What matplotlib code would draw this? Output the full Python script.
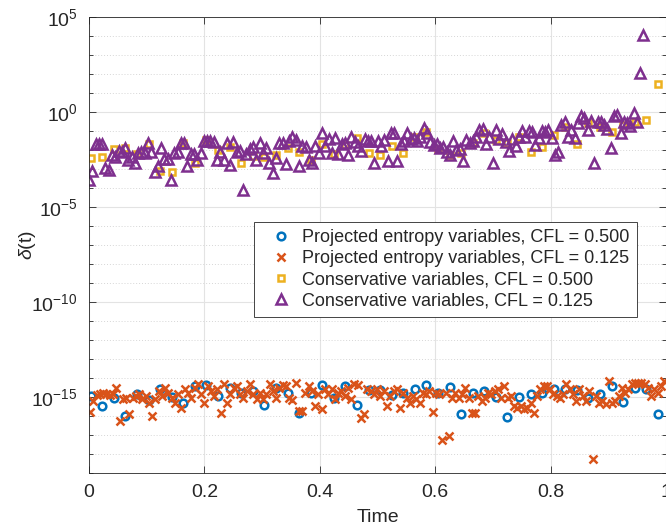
import matplotlib
matplotlib.use("Agg")
import matplotlib.pyplot as plt
import numpy as np
from matplotlib.ticker import FixedLocator, LogFormatterSciNotation, NullFormatter

plt.rcParams['font.family'] = ['Liberation Sans', 'DejaVu Sans']
plt.rcParams['mathtext.fontset'] = 'custom'
plt.rcParams['mathtext.rm'] = 'Liberation Sans'
plt.rcParams['mathtext.it'] = 'Liberation Sans:italic'
plt.rcParams['axes.unicode_minus'] = False

# log10(delta)
# projected entropy variables, CFL = 0.500
blue_exp = [-14.96, -15.49, -15.03, -16.0, -14.82, -15.17, -14.56, -14.99, -15.33, -14.43,
            -14.36, -14.96, -14.5, -14.8, -14.71, -15.42, -14.54, -14.78, -15.86, -14.8,
            -14.36, -15.06, -14.41, -15.43, -14.64, -14.61, -14.91, -14.77, -14.56, -14.36,
            -14.78, -14.47, -15.91, -14.78, -14.71, -14.98, -16.05, -14.99, -14.85, -14.8,
            -14.56, -14.56, -14.64, -15.03, -14.85, -14.43, -15.27, -14.54, -14.58, -15.88]

# projected entropy variables, CFL = 0.125
orange_exp = [-15.77, -15.21, -14.89, -14.82, -14.77, -14.82, -14.89, -14.86, -14.51, -16.27,
              -15.12, -15.04, -15.92, -15.04, -14.95, -14.86, -15.12, -14.95, -15.3, -16.0,
              -15.12, -14.68, -14.95, -14.51, -14.77, -15.04, -15.3, -14.86, -15.56, -14.6,
              -14.77, -15.04, -14.51, -14.33, -14.86, -15.3, -14.42, -14.68, -14.95, -14.6,
              -15.83, -14.3, -15.3, -14.86, -14.51, -14.42, -14.86, -15.04, -14.68, -14.33,
              -14.86, -15.12, -14.77, -15.12, -14.86, -14.33, -14.68, -15.04, -14.51, -14.37,
              -14.42, -15.04, -15.18, -14.24, -15.74, -15.74, -14.77, -14.42, -14.68, -15.48,
              -14.86, -15.65, -14.6, -14.86, -14.6, -15.12, -14.77, -14.68, -14.95, -14.51,
              -15.12, -14.33, -14.37, -16.09, -15.92, -14.6, -14.68, -14.86, -14.6, -14.95,
              -14.68, -15.48, -14.95, -14.68, -14.6, -15.6, -14.77, -15.04, -15.3, -14.95,
              -15.12, -15.3, -14.77, -14.86, -14.68, -15.77, -14.77, -14.86, -17.24, -14.77,
              -17.06, -15.04, -14.77, -15.04, -14.86, -14.51, -15.04, -15.83, -15.83,
              -14.95, -15.21, -15.04, -14.77, -14.86, -14.68, -14.6, -15.04, -14.42, -15.04,
              -14.95, -15.48, -15.56, -15.48, -15.65, -15.56, -15.3, -15.83, -14.95, -14.6,
              -14.42, -14.42, -14.6, -14.86, -14.95, -15.04, -14.86, -14.33, -14.6, -14.86,
              -15.21, -14.6, -14.95, -15.21, -14.68, -18.24, -14.95, -15.3, -15.21, -15.39,
              -14.16, -15.3, -15.21, -14.95, -14.51, -14.77, -14.6, -14.33, -14.24, -14.24,
              -14.24, -14.33, -14.51, -14.95, -14.6, -14.77, -14.42, -14.16]

# conservative variables, CFL = 0.500
yellow_exp = [-2.41, -2.36, -1.95, -1.9, -2.2, -1.69, -3.1, -3.17, -1.62, -2.66,
              -1.48, -2.0, -1.83, -2.66, -2.29, -2.36, -2.27, -1.87, -2.1, -2.53,
              -1.69, -2.2, -1.74, -1.39, -2.17, -2.27, -1.78, -2.18, -1.3, -1.04,
              -1.95, -2.27, -2.18, -1.65, -1.13, -1.48, -1.65, -1.34, -2.13, -1.83,
              -1.21, -0.78, -1.69, -0.6, -0.78, -1.07, -0.69, -0.55, -0.44, 1.46]

# conservative variables, CFL = 0.125 (blows up near t = 0.96)
purple_exp = [-3.59, -3.1, -1.71, -1.71, -1.71, -2.94, -3.06, -2.27, -2.36, -2.04,
              -2.1, -1.92, -2.5, -2.36, -2.71, -2.18, -2.1, -2.18, -1.65, -2.1,
              -3.15, -2.83, -1.87, -2.45, -2.45, -3.59, -2.15, -2.1, -1.62, -1.62,
              -2.85, -2.22, -2.22, -2.5, -2.15, -1.53, -1.5, -1.53, -1.6, -2.5,
              -2.1, -2.5, -1.65, -2.8, -1.6, -2.1, -2.05, -4.08, -2.22, -1.95,
              -1.83, -2.5, -1.65, -2.15, -1.9, -2.7, -3.2, -2.4, -1.65, -1.65,
              -2.75, -1.5, -1.34, -1.45, -2.85, -1.8, -1.85, -2.5, -2.7, -1.8,
              -2.15, -1.09, -1.8, -1.4, -2.15, -1.35, -2.2, -1.69, -1.65, -2.27,
              -1.34, -1.6, -1.8, -2.05, -1.4, -1.5, -1.5, -2.71, -1.5, -1.8,
              -1.45, -2.6, -1.13, -1.1, -2.6, -1.7, -1.55, -1.1, -1.4, -1.35,
              -1.5, -1.3, -0.86, -1.1, -1.6, -1.75, -1.7, -1.9, -1.85, -2.1,
              -2.25, -1.55, -2.0, -1.95, -2.6, -1.45, -1.65, -1.5, -1.3, -0.95,
              -0.88, -1.7, -1.3, -2.71, -0.95, -1.4, -1.15, -1.6, -2.05, -1.4,
              -1.8, -1.3, -1.0, -1.3, -1.0, -1.05, -1.75, -1.35, -1.0, -1.05,
              -0.95, -1.35, -2.27, -2.1, -0.69, -0.5, -1.3, -0.95, -1.35, -0.6,
              -0.21, -0.3, -0.95, -0.45, -2.71, -0.55, -0.5, -0.7, -0.9, -1.9,
              -0.21, -0.15, -1.1, -0.5, -0.6, -0.75, -0.07, -0.55, 2.04, 4.07]

# time grids of the stored steps
t_coarse = np.linspace(0.003, 0.986, len(blue_exp))
t_orange = np.linspace(0.002, 0.997, len(orange_exp))
t_purple = np.linspace(0.0, 0.961, len(purple_exp))

labels = ['Projected entropy variables, CFL = 0.500',
          'Projected entropy variables, CFL = 0.125',
          'Conservative variables, CFL = 0.500',
          'Conservative variables, CFL = 0.125']
colors = ['#0072BD', '#D95319', '#EDB120', '#7E2F8E']

fig = plt.figure(figsize=(6.66, 5.29), dpi=100)
ax = fig.add_axes([89 / 666, 56 / 529, 577 / 666, 456 / 529])

mk = dict(linestyle='none', markerfacecolor='none', markeredgewidth=1.8)
ax.plot(t_coarse, 10.0 ** np.array(blue_exp), marker='o', markersize=5.5,
        markeredgecolor=colors[0], label=labels[0], **mk)
ax.plot(t_orange, 10.0 ** np.array(orange_exp), marker='x', markersize=5.5,
        markeredgecolor=colors[1], label=labels[1], **mk)
ax.plot(t_coarse, 10.0 ** np.array(yellow_exp), marker='s', markersize=5,
        markeredgecolor=colors[2], label=labels[2], **mk)
ax.plot(t_purple, 10.0 ** np.array(purple_exp), marker='^', markersize=7,
        markeredgecolor=colors[3], label=labels[3], **mk)

ax.set_yscale('log')
ax.set_xlim(0, 1)
ax.set_ylim(1e-19, 1e5)
ax.set_xticks([0, 0.2, 0.4, 0.6, 0.8, 1.0])
ax.set_xticklabels(['0', '0.2', '0.4', '0.6', '0.8', '1'])
ax.yaxis.set_major_locator(FixedLocator([1e-15, 1e-10, 1e-5, 1e0, 1e5]))
ax.yaxis.set_minor_locator(FixedLocator([10.0 ** k for k in range(-19, 6)]))
ax.yaxis.set_major_formatter(LogFormatterSciNotation())
ax.yaxis.set_minor_formatter(NullFormatter())

txt = '#262626'
ax.tick_params(axis='both', which='both', direction='in', colors=txt,
               labelsize=14, top=True, right=True)
ax.tick_params(axis='both', which='major', length=5, width=0.6, pad=8)
ax.tick_params(axis='y', which='minor', length=3, width=0.6)
for s in ax.spines.values():
    s.set_color(txt)
    s.set_linewidth(0.6)

ax.grid(True, which='major', color='#e3e3e3', linewidth=0.8)
ax.grid(True, which='minor', axis='y', color='#d6d6d6', linestyle=(0, (1, 2)), linewidth=0.7)
ax.set_axisbelow(True)

ax.set_xlabel('Time', fontsize=14, color=txt, labelpad=6)
ax.set_ylabel(r'$\delta$(t)', fontsize=14, color=txt)
ax.yaxis.set_label_coords(-0.088, 0.5)

leg = ax.legend(loc='upper right', bbox_to_anchor=(0.9497, 0.5504), fontsize=13,
                fancybox=False, edgecolor=txt, framealpha=1, handlelength=2.2,
                handletextpad=0.1, borderpad=0.4, labelspacing=0.23, borderaxespad=0)
leg.get_frame().set_linewidth(0.6)
for t in leg.get_texts():
    t.set_color(txt)

plt.savefig('out.png', dpi=100)
